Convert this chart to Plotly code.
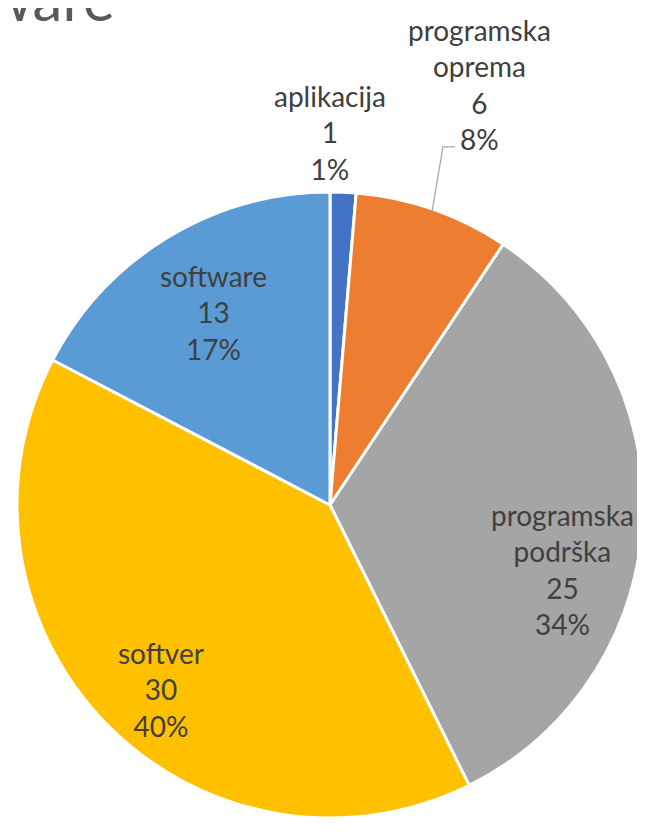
"""Pie chart - Croatian terms for 'software'"""

import math
import plotly.graph_objects as go

labels = ["aplikacija", "programska<br>oprema", "programska<br>podrška", "softver", "software"]
values = [1, 6, 25, 30, 13]
pct_labels = ["1%", "8%", "34%", "40%", "17%"]
colors = ["#4472C4", "#ED7D31", "#A5A5A5", "#FFC000", "#5B9BD5"]
title_text = "Software"

W, H = 645, 832
OFF = 8                        # browser body margin shifts the figure
cx, cy, R = 330 - OFF, 505 - OFF, 313   # pie centre / radius in figure pixels

# label placement: (radius fraction, angle nudge in degrees)
label_pos = [(1.19, -2.4), (1.425, 0.4), (0.77, 12.0), (0.80, -3.0), (0.72, 0.0)]

fig = go.Figure(go.Pie(
    labels=labels, values=values, sort=False, direction="clockwise", rotation=0,
    marker=dict(colors=colors, line=dict(color="white", width=3)),
    textinfo="none", hoverinfo="label+value+percent", showlegend=False,
    domain=dict(x=[(cx - R) / W, (cx + R) / W], y=[1 - (cy + R) / H, 1 - (cy - R) / H]),
))


def to_paper(angle, frac):
    a = math.radians(angle)
    px = cx + R * frac * math.sin(a)
    py = cy - R * frac * math.cos(a)
    return px / W, 1 - py / H


total = sum(values)
cum = 0
for i, v in enumerate(values):
    mid = (cum + v / 2) / total * 360
    cum += v
    frac, nudge = label_pos[i]
    x, y = to_paper(mid + nudge, frac)
    fig.add_annotation(x=x, y=y, xref="paper", yref="paper", showarrow=False,
                       xanchor="center", yanchor="middle",
                       text=f"{labels[i]}<br>{v}<br>{pct_labels[i]}",
                       font=dict(family="Lato", size=28, color="#404040"))
    if i == 1:
        # leader line for the small orange slice
        x0, y0 = to_paper(mid, 0.99)
        x1, y1 = to_paper(mid - 1.7, 1.2)
        fig.add_shape(type="path", xref="paper", yref="paper",
                      path=f"M {x0} {y0} L {x1} {y1} L {x1 + 12 / W} {y1}",
                      line=dict(color="#A6A6A6", width=1.2))

# title is mostly cut off by the top-left edge in the reference
fig.add_annotation(x=(117 - OFF) / W, y=1 - (36 - OFF) / H, xref="paper", yref="paper",
                   xanchor="right", yanchor="bottom", showarrow=False,
                   text=title_text,
                   font=dict(family="Lato", size=60, color="#595959"))

fig.update_layout(width=W, height=H, margin=dict(l=0, r=0, t=0, b=0),
                  paper_bgcolor="white", plot_bgcolor="white")

fig.write_html("out.html")
